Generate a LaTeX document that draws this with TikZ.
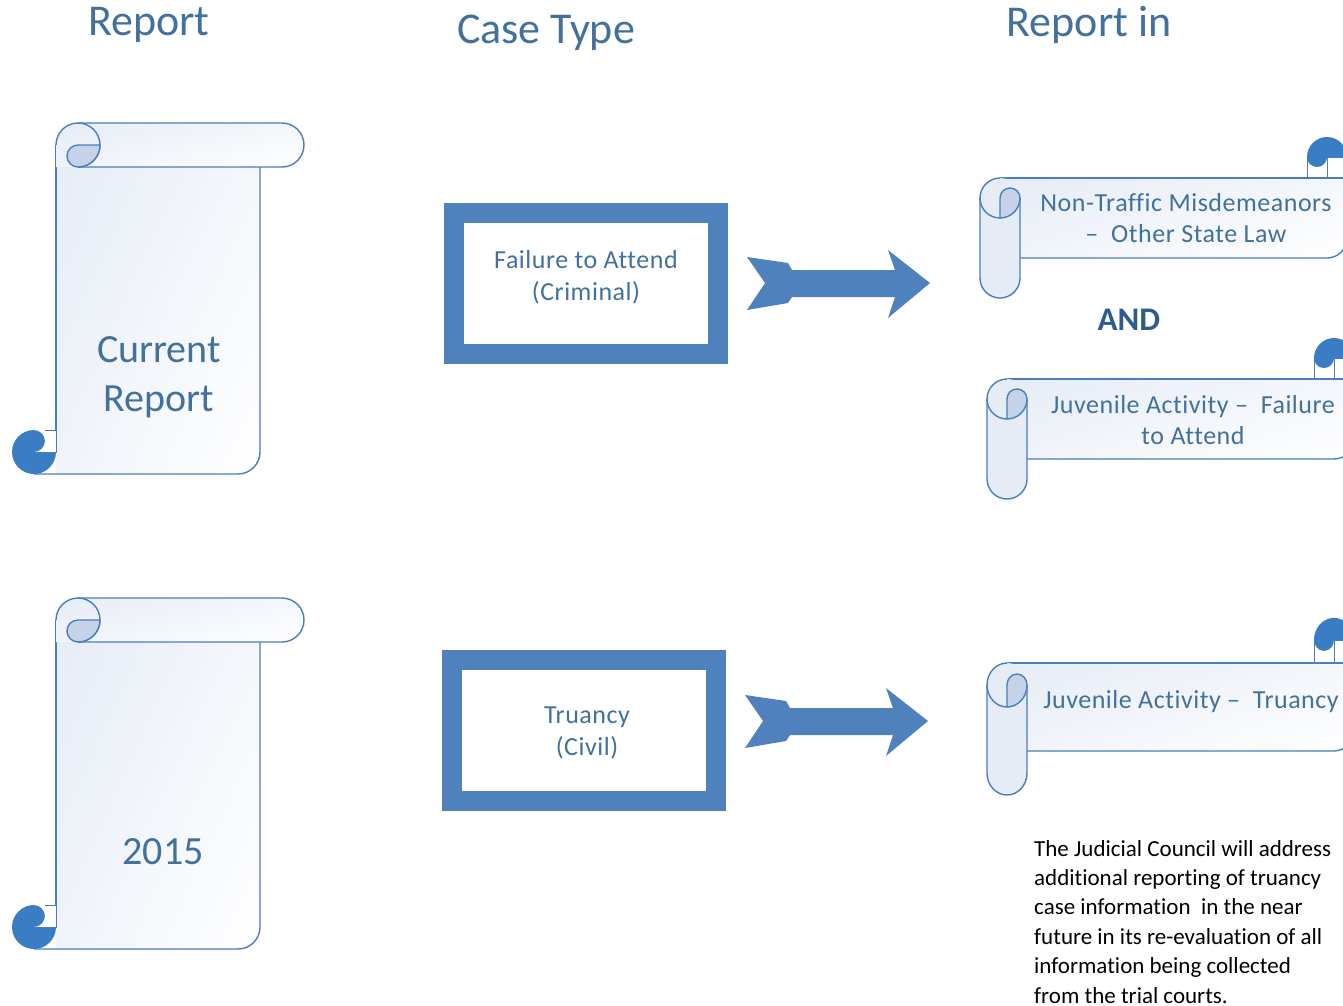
\documentclass[tikz,border=0pt]{standalone}
\usepackage{fontspec}
\setmainfont{Carlito}[Ligatures={NoCommon,NoContextual}]
\newfontfamily\widefont{Carlito}[LetterSpace=2,Ligatures={NoCommon,NoContextual}]
\usetikzlibrary{positioning,shadings}
\definecolor{textblue}{HTML}{41719C}
\definecolor{boxblue}{HTML}{4F81BD}
\definecolor{rimblue}{HTML}{4A7EBB}
\definecolor{curldark}{HTML}{3A7DC4}
\definecolor{curllight}{HTML}{C5D2E8}
\definecolor{sheetfill}{HTML}{E6ECF6}
\definecolor{rollfill}{HTML}{E6ECF6}
\definecolor{andblue}{HTML}{2F5C8F}
\tikzset{
  heading/.style = {text=textblue, inner sep=0pt, font=\fontsize{44}{52}\selectfont},
  sheetlabel/.style = {text=textblue, align=center, inner sep=0pt, font=\fontsize{40}{49}\selectfont},
  casebox/.style = {draw=boxblue, line width=20pt, fill=white, minimum width=264pt, minimum height=141pt},
  casetext/.style = {text=textblue, align=center, inner sep=0pt, font=\widefont\fontsize{26}{32}\selectfont},
  rolltext/.style = {text=textblue, align=center, inner sep=0pt, font=\widefont\fontsize{26}{31.5}\selectfont},
  note/.style = {align=left, inner sep=0pt, font=\fontsize{23}{29.4}\selectfont},
  rim/.style = {draw=rimblue, line width=1.4pt, line join=round},
  sheetshade/.style = {shade, upper left=sheetfill, upper right=sheetfill!45!white,
    lower left=sheetfill!60!white, lower right=white},
  vscroll/.pic = {
    \path[sheetshade] (0,-22) -- (0,-351) -- (182,-351) arc[start angle=270,end angle=360,radius=22] -- (204,-22) -- cycle;
    \draw[rim] (0,-22) -- (0,-307);
    \draw[rim] (-22,-351) -- (182,-351) arc[start angle=270,end angle=360,radius=22] -- (204,-44);
    \path[sheetshade] (0,-22) arc[start angle=180,end angle=90,radius=22] -- (226,0)
      arc[start angle=90,end angle=-90,radius=22] -- (0,-44) -- cycle;
    \draw[rim] (0,-22) arc[start angle=180,end angle=90,radius=22] -- (226,0)
      arc[start angle=90,end angle=-90,radius=22] -- (22,-44);
    \draw[rim] (22,0) arc[start angle=90,end angle=-90,radius=22];
    \filldraw[rim, fill=curllight] (22,-44) arc[start angle=270,end angle=90,radius=11] -- (44,-22)
      arc[start angle=0,end angle=-90,radius=22] -- cycle;
    \fill[curldark] (-22,-329) circle[radius=22];
    \fill[white] (-22,-307) -- (0,-307) -- (0,-329) -- (-22,-329) arc[start angle=-90,end angle=90,radius=11] -- cycle;
    \draw[rim, line width=0.8pt] (-11,-307) -- (0,-307) -- (0,-329) -- (-22,-329);
  },
  hscroll/.pic = {
    \path[sheetshade] (20,0) -- (367,0) -- (367,-60) arc[start angle=0,end angle=-90,radius=20] -- (20,-80) -- cycle;
    \fill[white] (327,0) rectangle (367,21);
    \draw[rim] (20,0) -- (367,0);
    \draw[rim] (40,-80) -- (347,-80) arc[start angle=-90,end angle=0,radius=20] -- (367,0);
    \draw[rim, line width=0.8pt] (327,0) -- (327,21) (347,0) -- (347,21) -- (367,21);
    \fill[curldark] (327,21) arc[start angle=180,end angle=0,radius=20] -- (347,21)
      arc[start angle=0,end angle=-180,radius=10] -- cycle;
    \fill[rollfill] (0,-20) -- (0,-100) arc[start angle=180,end angle=360,radius=20] -- (40,-20)
      arc[start angle=0,end angle=180,radius=20] -- cycle;
    \draw[rim] (20,0) arc[start angle=90,end angle=180,radius=20] -- (0,-100)
      arc[start angle=180,end angle=360,radius=20] -- (40,-20);
    \draw[rim] (0,-20) arc[start angle=180,end angle=270,radius=20];
    \filldraw[rim, fill=curllight] (20,-40) -- (20,-20) arc[start angle=180,end angle=0,radius=10]
      arc[start angle=0,end angle=-90,radius=20] -- cycle;
  },
  notcharrow/.pic = {
    \fill[boxblue] (0,26) -- (41,20) -- (45,13) -- (148,13) -- (141,33) -- (183,0) -- (141,-35)
      -- (148,-14) -- (45,-14) -- (41,-20) -- (0,-27) -- (18,0) -- cycle;
  }
}
\begin{document}
\begin{tikzpicture}[x=1pt, y=1pt]
\useasboundingbox[fill=white] (0,0) rectangle (1343,-1005);

% column heads
\node[heading] (hreport) at (149,-25) {Report};
\node[heading] (hcase) at (546,-33) {Case Type};
\node[heading] (hin) at (1089,-25) {Report in};

% left scrolls
\pic at (56,-123) {vscroll};
\pic at (56,-598) {vscroll};
\node[sheetlabel] (current) at (159,-377) {Current\\Report};
\node[sheetlabel] (year) at (163,-852) {2015};

% case types
\node[casebox] (fta) at (586,-283) {};
\node[casebox] (truancy) at (584,-730) {};
\node[casetext] (ftatext) at (586,-277) {Failure to Attend\\(Criminal)};
\node[casetext] (trutext) at (587,-733) {Truancy\\(Civil)};

\coordinate[right=19pt of fta] (arrA);
\coordinate[right=19pt of truancy, yshift=9pt] (arrB);
\pic at (arrA) {notcharrow};
\pic at (arrB) {notcharrow};

% right scrolls
\pic at (980,-178) {hscroll};
\pic at (987,-379) {hscroll};
\pic[yscale=1.1] at (987,-663) {hscroll};
\node[rolltext] (nontraffic) at (1186,-218) {Non-Traffic Misdemeanors\\–\ \ Other State Law};
\node[text=andblue, font=\fontsize{33}{40}\selectfont\bfseries] (and) at (1129,-320) {AND};
\node[rolltext] (juvfta) at (1193,-420) {Juvenile Activity –\ \ Failure\\to Attend};
\node[rolltext] (juvtru) at (1191,-702) {Juvenile Activity –\ \ Truancy};

\node[note, anchor=north west] (note) at (1034,-840) {The Judicial Council will address\\additional reporting of truancy\\case information\ \ in the near\\future in its re-evaluation of all\\information being collected\\from the trial courts.};
\end{tikzpicture}
\end{document}
